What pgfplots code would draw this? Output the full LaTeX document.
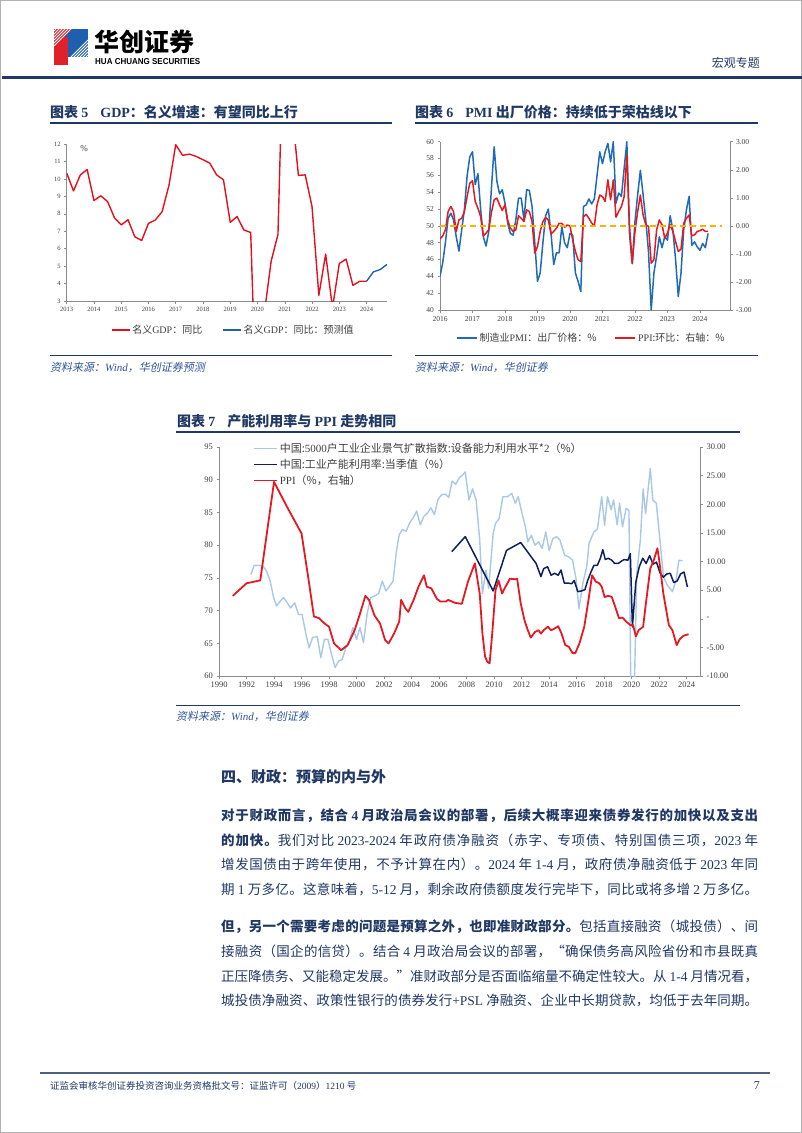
\documentclass[border=0pt]{standalone}
\usepackage{fontspec}
\usepackage{graphicx}
\usepackage{pgfplots}
\pgfplotsset{compat=1.18}
\setmainfont{Liberation Serif}
\newfontfamily\cjk{Noto Sans CJK SC}
\newfontfamily\cjkit{Noto Sans CJK SC}[FakeSlant=0.2]
\newfontfamily\hdsans{Liberation Sans}

\definecolor{navy}{HTML}{1F3864}
\definecolor{srcblue}{HTML}{2F5597}
\definecolor{gdpred}{HTML}{E3101E}
\definecolor{gdpblue}{HTML}{2163B0}
\definecolor{pmiblue}{HTML}{1F6BB5}
\definecolor{ppired}{HTML}{E41A22}
\definecolor{dashyel}{HTML}{F5B400}
\definecolor{capblue}{HTML}{A9C8E6}
\definecolor{capnavy}{HTML}{0E1F5B}
\definecolor{axgray}{HTML}{8C8C8C}
\definecolor{txtgray}{HTML}{404040}
\definecolor{logored}{HTML}{E0202A}
\definecolor{logoblue}{HTML}{1F5FAF}

% CJK characters get class 1, so that glue can go between them (justified body lines)
\newcount\cjkc
\def\setcjkclass#1#2{\cjkc=#1 \loop\XeTeXcharclass\cjkc=1 \advance\cjkc by 1 \ifnum\cjkc<#2 \repeat}
\setcjkclass{"4E00}{"A000}
\setcjkclass{"3000}{"3040}
\setcjkclass{"FF00}{"FFF0}
\XeTeXcharclass"201C=1 \XeTeXcharclass"201D=1
\newcommand\cjkglue{\hskip 0pt plus 4pt\relax}
\XeTeXinterchartoks 1 1 {\cjkglue}
\XeTeXinterchartoks 0 1 {\cjkglue}
\XeTeXinterchartoks 1 0 {\cjkglue}

\newlength\linew
\setlength\linew{537pt}
\newcommand\jline[1]{{\XeTeXinterchartokenstate=1
  \setbox0=\hbox{#1}%
  \ifdim\wd0>\linew \resizebox{\linew}{!}{\box0}\else\hbox to \linew{#1}\fi}}
\newcommand\en[1]{{\rmfamily #1}}

\pgfplotsset{
  excel/.style={
    scale only axis,
    axis line style={-, axgray, line width=0.6pt},
    tick style={axgray, line width=0.5pt},
    tick align=outside, major tick length=2.5pt,
    /pgf/number format/assume math mode=true,
    /pgf/number format/1000 sep={},
    ticklabel style={text=txtgray},
    every axis plot/.append style={line join=round, mark=none},
  },
}

\begin{document}
\begin{tikzpicture}
\useasboundingbox (0,0) rectangle (802pt,-1133pt);
\fill[white] (0,0) rectangle (802pt,-1133pt);
\draw[gray!60, line width=0.8pt] (0.5pt,-0.5pt) rectangle (801.5pt,-1132.5pt);

% ---------- header ----------
\fill[logoblue] (63pt,-29pt) rectangle (88pt,-57pt);
\fill[logored] (54pt,-37pt) rectangle (68pt,-65pt);
\begin{scope}
  \clip (54pt,-29pt) -- (72pt,-29pt) -- (54pt,-47pt) -- cycle;
  \fill[logored] (54pt,-29pt) rectangle (72pt,-47pt);
  \foreach \d in {2,5,...,20}{\draw[white, line width=0.9pt] (54pt+\d pt,-29pt) -- (54pt,-29pt-\d pt);}
\end{scope}
\begin{scope}
  \clip (88pt,-39pt) -- (88pt,-57pt) -- (70pt,-57pt) -- cycle;
  \foreach \d in {2,5,...,20}{\draw[white, line width=0.9pt] (88pt,-57pt+\d pt) -- (88pt-\d pt,-57pt);}
\end{scope}
\node[anchor=west, inner sep=0pt, font=\cjk\bfseries\fontsize{25}{26}\selectfont] at (94pt,-42pt) {华创证券};
\node[anchor=west, inner sep=0pt] at (95pt,-61.5pt) {\resizebox{105pt}{6pt}{\hdsans\bfseries HUA CHUANG SECURITIES}};
\node[anchor=east, inner sep=0pt, text=navy, font=\cjk\fontsize{12}{13}\selectfont] at (760pt,-63pt) {宏观专题};
\draw[navy, line width=2.2pt] (2pt,-77.5pt) -- (802pt,-77.5pt);

% ---------- chart 5 ----------
\node[anchor=west, inner sep=0pt, text=navy, font=\cjk\bfseries\fontsize{14}{15}\selectfont] at (50pt,-112pt) {图表 \en{5}\hspace{12pt}\en{GDP}：名义增速：有望同比上行};
\draw[navy, line width=1.3pt] (50pt,-123pt) -- (392pt,-123pt);
\begin{axis}[excel,
  at={(66.7pt,-301pt)}, anchor=south west,
  width=320.3pt, height=157pt,
  xmin=2013, xmax=2024.75, ymin=3, ymax=12,
  axis x line*=bottom, axis y line*=left,
  xtick={2013,2014,...,2024}, ytick={3,4,...,12},
  ticklabel style={font=\fontsize{6.5}{7}\selectfont},
  legend style={at={(0.52,-0.185)}, anchor=center, draw=none, fill=none,
    legend columns=2, font=\cjk\fontsize{10}{12}\selectfont, text=txtgray,
    /tikz/every even column/.append style={column sep=18pt}},
  legend image code/.code={\draw[#1] (0pt,0pt) -- (18pt,0pt);},
]
\addplot[gdpred, line width=1.4pt] coordinates {
 (2013.00,10.33) (2013.25,9.31) (2013.50,10.23) (2013.75,10.54)
 (2014.00,8.76) (2014.25,9.03) (2014.50,8.70) (2014.75,7.78)
 (2015.00,7.36) (2015.25,7.66) (2015.50,6.68) (2015.75,6.47)
 (2016.00,7.45) (2016.25,7.64) (2016.50,8.12) (2016.75,9.62)
 (2017.00,11.96) (2017.25,11.35) (2017.50,11.42) (2017.75,11.29)
 (2018.00,11.10) (2018.25,10.90) (2018.50,10.23) (2018.75,9.95)
 (2019.00,7.51) (2019.25,7.84) (2019.50,7.07) (2019.75,6.93)
 (2020.00,-5.3) (2020.25,2.3) (2020.50,5.28) (2020.75,6.82)
 (2021.00,21.2) (2021.25,14.2) (2021.50,10.20) (2021.75,10.23)
 (2022.00,8.41) (2022.25,3.33) (2022.50,5.69) (2022.75,2.6)
 (2023.00,5.15) (2023.25,5.40) (2023.50,3.90) (2023.75,4.13)
 (2024.00,4.13)};
\addlegendentry{名义\en{GDP}：同比}
\addplot[gdpblue, line width=1.4pt] coordinates {
 (2024.00,4.13) (2024.25,4.67) (2024.50,4.80) (2024.75,5.10)};
\addlegendentry{名义\en{GDP}：同比：预测值}
\end{axis}
\node[font=\fontsize{9}{10}\selectfont, text=txtgray] at (84pt,-149pt) {\%};
\draw[navy, line width=0.9pt] (50pt,-355pt) -- (392pt,-355pt);
\node[anchor=west, inner sep=0pt, text=srcblue, font=\cjkit\fontsize{11}{12}\selectfont] at (50pt,-367pt) {资料来源：\en{\itshape Wind}，华创证券预测};

% ---------- chart 6 ----------
\node[anchor=west, inner sep=0pt, text=navy, font=\cjk\bfseries\fontsize{14}{15}\selectfont] at (415pt,-112pt) {图表 \en{6}\hspace{12pt}\en{PMI} 出厂价格：持续低于荣枯线以下};
\draw[navy, line width=1.3pt] (415pt,-123pt) -- (758pt,-123pt);
\begin{axis}[excel,
  at={(440pt,-310pt)}, anchor=south west,
  width=290pt, height=168.3pt,
  xmin=0, xmax=107.1, ymin=40, ymax=60,
  axis x line*=bottom, axis y line*=left,
  xtick={0,12,...,96}, xticklabels={2016,2017,2018,2019,2020,2021,2022,2023,2024},
  ytick={40,42,...,60},
  ticklabel style={font=\fontsize{7.5}{8}\selectfont},
  legend style={at={(0.522,-0.165)}, anchor=center, draw=none, fill=none,
    legend columns=2, font=\cjk\fontsize{10}{12}\selectfont, text=txtgray,
    /tikz/every even column/.append style={column sep=16pt}},
  legend image code/.code={\draw[#1] (0pt,0pt) -- (20pt,0pt);},
]
\addplot[pmiblue, line width=1.5pt] coordinates {
 (0,44.0) (1,45.6) (2,48.0) (3,50.9) (4,51.5) (5,50.7) (6,48.7) (7,47.0)
 (8,49.5) (9,51.9) (10,55.9) (11,58.2) (12,58.8) (13,54.9) (14,56.2) (15,52.0)
 (16,48.7) (17,47.6) (18,49.3) (19,54.5) (20,59.4) (21,55.3) (22,53.8) (23,54.3)
 (24,52.7) (25,50.3) (26,49.1) (27,48.9) (28,50.7) (29,53.3) (30,53.3) (31,50.7)
 (32,54.3) (33,54.2) (34,52.3) (35,48.0) (36,43.4) (37,44.4) (38,48.0) (39,51.2)
 (40,52.0) (41,49.1) (42,45.4) (43,46.8) (44,46.8) (45,49.9) (46,48.0) (47,47.4)
 (48,49.1) (49,48.9) (50,44.4) (51,43.4) (52,42.2) (53,52.3) (54,52.5) (55,53.2)
 (56,52.6) (57,53.2) (58,56.0) (59,58.8) (60,57.4) (61,58.8) (62,59.8) (63,57.6)
 (64,60.0) (65,52.7) (66,53.9) (67,53.5) (68,56.8) (69,60.0) (70,48.9) (71,45.5)
 (72,50.5) (73,53.7) (74,56.6) (75,53.7) (76,50.7) (77,46.9) (78,40.0) (79,44.4)
 (80,46.4) (81,48.7) (82,47.4) (83,48.7) (84,48.3) (85,51.2) (86,49.5) (87,46.0)
 (88,41.6) (89,44.4) (90,49.5) (91,51.9) (92,53.5) (93,47.7) (94,48.1) (95,47.5)
 (96,47.1) (97,47.9) (98,47.4) (99,49.1)};
\addlegendentry{制造业\en{PMI}：出厂价格：\%}
\addlegendimage{ppired, line width=1.5pt}
\addlegendentry{\en{PPI}:环比：右轴：\%}
\end{axis}
\begin{axis}[excel,
  at={(440pt,-310pt)}, anchor=south west,
  width=290pt, height=168.3pt,
  xmin=0, xmax=107.1, ymin=-3, ymax=3,
  axis x line=none, axis y line*=right,
  ytick={-3,-2,...,3}, yticklabels={-3.00,-2.00,-1.00,0.00,1.00,2.00,3.00},
  ticklabel style={font=\fontsize{7.5}{8}\selectfont},
]
\addplot[ppired, line width=1.5pt] coordinates {
 (0,-0.47) (1,-0.36) (2,-0.14) (3,0.51) (4,0.69) (5,0.51) (6,-0.20) (7,0.21)
 (8,0.27) (9,0.51) (10,1.04) (11,1.52) (12,1.61) (13,0.87) (14,0.63) (15,0.33)
 (16,-0.36) (17,-0.26) (18,-0.14) (19,0.48) (20,0.93) (21,0.99) (22,0.75) (23,0.55)
 (24,0.75) (25,0.21) (26,-0.08) (27,-0.20) (28,-0.14) (29,0.36) (30,0.27) (31,0.15)
 (32,0.57) (33,0.51) (34,0.15) (35,-0.97) (36,-0.74) (37,-0.20) (38,0.15) (39,0.30)
 (40,0.21) (41,-0.29) (42,-0.20) (43,-0.08) (44,0.09) (45,0.09) (46,-0.05) (47,0.03)
 (48,0.00) (49,-0.50) (50,-0.91) (51,-1.21) (52,-1.27) (53,0.33) (54,0.41) (55,0.27)
 (56,0.10) (57,0.00) (58,0.75) (59,1.10) (60,1.04) (61,0.87) (62,1.64) (63,0.93)
 (64,1.64) (65,0.31) (66,0.51) (67,0.69) (68,1.04) (69,2.53) (70,-0.02) (71,-1.33)
 (72,-0.20) (73,0.51) (74,1.10) (75,0.39) (76,0.04) (77,-0.02) (78,-1.33) (79,-1.21)
 (80,-0.14) (81,0.21) (82,0.04) (83,-0.44) (84,-0.26) (85,0.04) (86,-0.20) (87,-0.56)
 (88,-0.91) (89,-0.83) (90,0.09) (91,0.27) (92,0.39) (93,-0.36) (94,-0.32) (95,-0.20)
 (96,-0.17) (97,-0.12) (98,-0.20) (99,-0.20)};
\addplot[dashyel, line width=1.6pt, dash pattern=on 6pt off 4pt] coordinates {(0,0) (104,0)};
\end{axis}
\draw[navy, line width=0.9pt] (415pt,-355pt) -- (758pt,-355pt);
\node[anchor=west, inner sep=0pt, text=srcblue, font=\cjkit\fontsize{11}{12}\selectfont] at (415pt,-367pt) {资料来源：\en{\itshape Wind}，华创证券};

% ---------- chart 7 ----------
\node[anchor=west, inner sep=0pt, text=navy, font=\cjk\bfseries\fontsize{14}{15}\selectfont] at (177pt,-421pt) {图表 \en{7}\hspace{12pt}产能利用率与 \en{PPI} 走势相同};
\draw[navy, line width=1.3pt] (176pt,-432pt) -- (740pt,-432pt);
\begin{axis}[excel,
  at={(219pt,-676pt)}, anchor=south west,
  width=481.5pt, height=229pt,
  xmin=1990, xmax=2025, ymin=60, ymax=95,
  axis x line*=bottom, axis y line*=left,
  xtick={1990,1992,...,2024}, ytick={60,65,...,95},
  ticklabel style={font=\fontsize{8.5}{9}\selectfont},
  legend style={at={(0.064,1.035)}, anchor=north west, draw=none, fill=none,
    legend columns=1, font=\cjk\fontsize{11}{13}\selectfont, text=txtgray,
    legend cell align=left, row sep=1pt},
  legend image code/.code={\draw[#1] (0pt,0pt) -- (23pt,0pt);},
]
\addplot[capblue, line width=1.4pt] coordinates {
 (1992.32,75.5) (1992.55,76.9) (1992.90,76.9) (1993.20,76.8) (1993.46,76.0) (1993.72,74.5)
 (1993.97,72.0) (1994.18,70.7) (1994.44,71.4) (1994.70,72.0) (1994.95,71.2) (1995.20,70.4)
 (1995.50,71.2) (1995.78,69.4) (1996.04,69.4) (1996.32,66.4) (1996.55,64.3) (1996.80,65.9)
 (1997.15,66.0) (1997.40,62.8) (1997.66,65.6) (1997.92,65.6) (1998.18,63.3) (1998.44,61.3)
 (1998.70,62.3) (1998.95,62.5) (1999.21,64.3) (1999.47,65.3) (1999.73,67.4) (1999.99,65.6)
 (2000.25,67.4) (2000.50,65.1) (2000.76,69.4) (2001.02,72.0) (2001.28,72.2) (2001.60,72.6)
 (2001.87,74.5) (2002.13,73.0) (2002.39,73.7) (2002.65,74.5) (2002.90,79.1) (2003.10,81.6)
 (2003.34,82.4) (2003.60,82.1) (2003.86,83.4) (2004.12,84.2) (2004.37,85.2) (2004.63,83.1)
 (2004.89,84.4) (2005.15,84.9) (2005.40,85.7) (2005.66,84.7) (2005.92,87.0) (2006.18,87.7)
 (2006.44,87.8) (2006.70,87.3) (2006.95,89.8) (2007.20,89.3) (2007.47,90.3) (2007.70,90.7)
 (2007.90,91.2) (2008.17,86.9) (2008.43,88.6) (2008.69,86.9) (2008.95,80.8) (2009.15,72.6)
 (2009.41,76.2) (2009.60,73.4) (2009.93,81.8) (2010.10,83.3) (2010.37,84.1) (2010.63,87.4)
 (2010.97,87.4) (2011.28,87.9) (2011.54,86.4) (2011.75,87.4) (2012.00,85.1) (2012.27,82.8)
 (2012.45,80.5) (2012.70,81.5) (2012.97,80.0) (2013.23,80.5) (2013.49,79.5) (2013.75,82.0)
 (2014.00,79.2) (2014.27,81.0) (2014.53,81.3) (2014.78,80.8) (2015.12,78.5) (2015.43,78.2)
 (2015.70,77.7) (2015.95,74.9) (2016.16,70.3) (2016.47,74.4) (2016.73,76.7) (2016.90,80.3)
 (2017.25,82.0) (2017.51,82.5) (2017.82,87.4) (2018.03,83.0) (2018.24,87.4) (2018.50,85.4)
 (2018.68,86.9) (2018.94,83.1) (2019.12,86.4) (2019.33,82.8) (2019.59,85.6) (2019.80,85.3)
 (2019.95,55.0) (2020.16,55.0) (2020.37,75.7) (2020.63,80.8) (2020.83,88.6) (2021.01,84.8)
 (2021.35,91.7) (2021.53,86.9) (2021.79,86.4) (2022.05,80.8) (2022.31,75.2) (2022.55,74.0)
 (2022.70,73.6) (2022.96,72.9) (2023.22,74.6) (2023.43,77.7) (2023.69,77.6)};
\addlegendentry{中国:\en{5000}户工业企业景气扩散指数:设备能力利用水平*\en{2}（\%）}
\addplot[capnavy, line width=1.5pt] coordinates {
 (2006.92,79.0) (2007.90,81.3) (2009.93,73.0) (2010.90,79.2) (2011.93,80.4) (2013.05,77.2)
 (2013.40,75.2) (2013.60,76.4) (2013.88,76.7) (2014.14,75.4) (2014.40,75.7) (2014.66,75.4)
 (2014.86,76.2) (2015.10,74.2) (2015.38,74.2) (2015.64,74.1) (2015.82,74.6) (2016.08,72.9)
 (2016.35,73.0) (2016.60,73.2) (2016.80,74.6) (2017.04,75.9) (2017.25,76.9) (2017.50,76.9)
 (2017.72,78.0) (2017.90,79.3) (2018.08,77.8) (2018.29,78.0) (2018.55,77.7) (2018.76,77.2)
 (2019.02,77.2) (2019.28,77.6) (2019.46,77.8) (2019.72,77.7) (2019.90,78.7) (2020.05,67.5)
 (2020.30,74.4) (2020.55,76.7) (2020.80,78.0) (2021.05,77.2) (2021.30,78.4) (2021.55,77.1)
 (2021.80,77.4) (2022.05,75.8) (2022.30,75.1) (2022.55,75.6) (2022.80,75.7) (2023.05,74.3)
 (2023.30,74.5) (2023.55,75.6) (2023.80,75.9) (2024.05,73.6)};
\addlegendentry{中国:工业产能利用率:当季值（\%）}
\addlegendimage{ppired, line width=1.8pt}
\addlegendentry{\en{PPI}（\%，右轴）}
\end{axis}
\begin{axis}[excel,
  at={(219pt,-676pt)}, anchor=south west,
  width=481.5pt, height=229pt,
  xmin=1990, xmax=2025, ymin=-10, ymax=30,
  axis x line=none, axis y line*=right,
  ytick={-10,-5,...,30},
  yticklabels={-10.00,-5.00,-,5.00,10.00,15.00,20.00,25.00,30.00},
  ticklabel style={font=\fontsize{8.5}{9}\selectfont},
]
\addplot[ppired, line width=1.8pt] coordinates {
 (1991.00,4.0) (1992.00,6.2) (1993.00,6.7) (1994.00,23.9) (1995.00,19.3) (1996.00,14.9)
 (1996.50,7.0) (1996.90,0.4) (1997.27,0.1) (1997.66,-0.8) (1998.00,-1.4) (1998.36,-4.3)
 (1998.88,-5.5) (1999.35,-4.6) (1999.86,-2.0) (2000.25,0.9) (2000.64,4.0) (2000.90,3.3)
 (2001.30,0.6) (2001.70,-0.8) (2002.07,-3.7) (2002.33,-4.3) (2002.72,-2.6) (2003.10,-0.5)
 (2003.24,3.3) (2003.55,1.8) (2003.76,1.2) (2004.15,3.3) (2004.50,5.6) (2004.90,7.6)
 (2005.10,5.6) (2005.44,5.3) (2005.83,3.5) (2006.10,3.0) (2006.48,3.0) (2006.66,3.3)
 (2007.13,2.8) (2007.65,2.6) (2008.10,6.5) (2008.60,9.7) (2008.95,4.4) (2009.15,-2.6)
 (2009.34,-6.6) (2009.50,-7.5) (2009.67,-7.8) (2009.86,-2.6) (2010.10,5.0) (2010.32,6.7)
 (2010.58,4.4) (2010.76,5.3) (2011.15,7.0) (2011.54,6.9) (2011.67,7.0) (2011.93,2.7)
 (2012.20,-0.2) (2012.45,-2.0) (2012.66,-3.3) (2012.97,-2.3) (2013.23,-2.0) (2013.40,-2.6)
 (2013.60,-2.0) (2013.90,-1.4) (2014.14,-2.0) (2014.40,-1.7) (2014.66,-1.3) (2014.90,-2.6)
 (2015.17,-4.6) (2015.43,-4.9) (2015.70,-6.0) (2015.90,-6.0) (2016.20,-4.3) (2016.55,-1.4)
 (2016.86,3.3) (2017.12,7.6) (2017.38,6.5) (2017.64,6.2) (2017.82,5.6) (2018.03,3.8)
 (2018.30,4.0) (2018.55,3.8) (2018.80,2.1) (2019.07,0.1) (2019.33,0.2) (2019.60,-0.5)
 (2019.90,-1.1) (2020.10,-1.1) (2020.30,-3.1) (2020.50,-2.0) (2020.83,-1.4) (2021.00,2.1)
 (2021.35,8.8) (2021.60,10.2) (2021.87,12.3) (2022.00,10.2) (2022.30,4.4) (2022.70,-1.1)
 (2022.96,-2.0) (2023.27,-4.6) (2023.48,-3.6) (2023.74,-3.0) (2024.00,-2.8) (2024.13,-2.7)};
\end{axis}
\draw[navy, line width=0.9pt] (176pt,-705pt) -- (740pt,-705pt);
\node[anchor=west, inner sep=0pt, text=srcblue, font=\cjkit\fontsize{11}{12}\selectfont] at (176pt,-716pt) {资料来源：\en{\itshape Wind}，华创证券};

% ---------- body text ----------
\node[anchor=west, inner sep=0pt, text=navy, font=\cjk\bfseries\fontsize{15}{17}\selectfont] at (221pt,-777pt) {四、财政：预算的内与外};
\begin{scope}[every node/.style={anchor=west, inner sep=0pt, text=navy, font=\cjk\fontsize{13.5}{16}\selectfont}]
\node at (221pt,-815.5pt) {\jline{\bfseries 对于财政而言，结合 \en{4} 月政治局会议的部署，后续大概率迎来债券发行的加快以及支出}};
\node at (221pt,-840.2pt) {\jline{{\bfseries 的加快。}我们对比 \en{2023-2024} 年政府债净融资（赤字、专项债、特别国债三项，\en{2023} 年}};
\node at (221pt,-864.9pt) {\jline{增发国债由于跨年使用，不予计算在内）。\en{2024} 年 \en{1-4} 月，政府债净融资低于 \en{2023} 年同}};
\node at (221pt,-889.6pt) {\jline{期 \en{1} 万多亿。这意味着，\en{5-12} 月，剩余政府债额度发行完毕下，同比或将多增 \en{2} 万多亿。}};
\node at (221pt,-926.7pt) {\jline{{\bfseries 但，另一个需要考虑的问题是预算之外，也即准财政部分。}包括直接融资（城投债）、间}};
\node at (221pt,-951.4pt) {\jline{接融资（国企的信贷）。结合 \en{4} 月政治局会议的部署，“确保债务高风险省份和市县既真}};
\node at (221pt,-976.1pt) {\jline{正压降债务、又能稳定发展。”准财政部分是否面临缩量不确定性较大。从 \en{1-4} 月情况看，}};
\node at (221pt,-1000.8pt) {\jline{城投债净融资、政策性银行的债券发行\en{+PSL} 净融资、企业中长期贷款，均低于去年同期。}};
\end{scope}

% ---------- footer ----------
\draw[navy!80, line width=1.6pt] (40pt,-1073pt) -- (770pt,-1073pt);
\node[anchor=west, inner sep=0pt, text=navy, font=\cjk\fontsize{9.5}{11}\selectfont] at (50pt,-1086pt) {证监会审核华创证券投资咨询业务资格批文号：证监许可（\en{2009}）\en{1210} 号};
\node[anchor=east, inner sep=0pt, text=navy, font=\fontsize{12}{13}\selectfont] at (760pt,-1086pt) {7};
\end{tikzpicture}
\end{document}
